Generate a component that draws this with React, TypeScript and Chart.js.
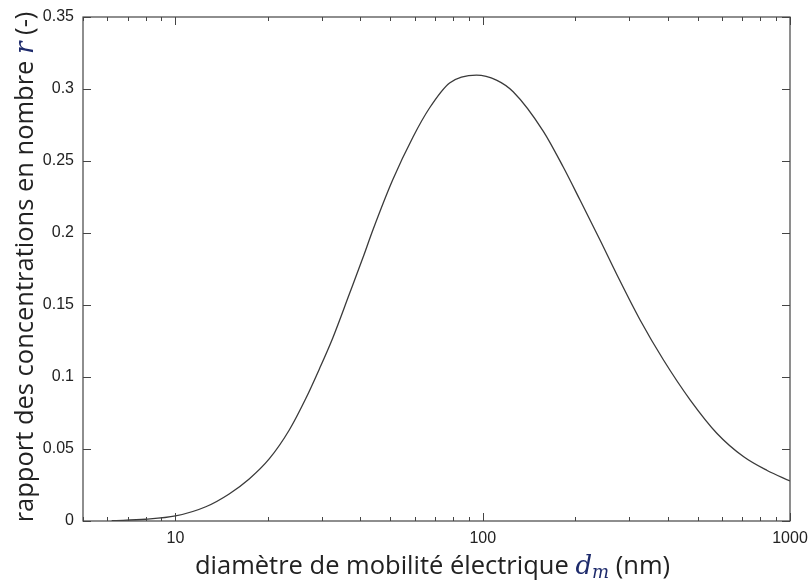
import React, { useEffect, useRef } from "react";
import { Chart, registerables } from "chart.js";

Chart.register(...registerables);

// mobility diameter d_m (nm)
const diameters = [6.2, 8, 10, 12.55, 14.95, 17.37, 20.18, 23.46, 26.6, 29.4, 32.5, 36.8, 40.7, 43.9, 50.9, 59.3, 67.1, 78, 95.4, 110.8, 125.6, 157.3, 182.8, 207.3, 240.8, 273.1, 325.2, 387.5, 473.6, 578.8, 706.9, 842.6, 1000];
// number concentration ratio r (-)
const ratios = [0.0002, 0.0012, 0.0035, 0.0099, 0.0188, 0.0292, 0.0431, 0.0632, 0.0854, 0.1056, 0.1271, 0.1576, 0.1826, 0.2021, 0.2368, 0.2667, 0.2868, 0.3042, 0.3097, 0.3062, 0.2981, 0.2708, 0.2458, 0.2229, 0.1951, 0.1712, 0.1396, 0.1118, 0.084, 0.0608, 0.0446, 0.0351, 0.0278];

const xMajorTicks = [10, 100, 1000];
const yTickValues = [0, 0.05, 0.1, 0.15, 0.2, 0.25, 0.3, 0.35];
const yTickLabels = ["0", "0.05", "0.1", "0.15", "0.2", "0.25", "0.3", "0.35"];

const xTitleParts = ["diamètre de mobilité électrique ", "d", "m", " (nm)"];
const yTitleParts = ["rapport des concentrations en nombre ", "r", " (-)"];

const TEXT = "#222";
const MATHC = "#1d2a6b";
const AXIS = "#444";

const framePlugin = {
  id: "frame",
  afterDraw(chart: any) {
    const { ctx, chartArea: a, scales } = chart;
    const x = scales.x;
    const y = scales.y;
    ctx.save();
    ctx.strokeStyle = AXIS;
    ctx.lineWidth = 1.2;
    ctx.strokeRect(a.left, a.top, a.right - a.left, a.bottom - a.top);
    ctx.lineWidth = 1;
    const major = 8;
    const minor = 4;
    for (let dec = 1; dec <= 1000; dec *= 10) {
      for (let k = 1; k <= 9; k++) {
        const v = dec * k;
        if (v < x.min || v > x.max) continue;
        const L = k === 1 ? major : minor;
        const px = Math.round(x.getPixelForValue(v)) + 0.5;
        ctx.beginPath();
        ctx.moveTo(px, a.bottom);
        ctx.lineTo(px, a.bottom - L);
        ctx.moveTo(px, a.top);
        ctx.lineTo(px, a.top + L);
        ctx.stroke();
      }
    }
    yTickValues.forEach((v) => {
      const py = Math.round(y.getPixelForValue(v)) + 0.5;
      ctx.beginPath();
      ctx.moveTo(a.left, py);
      ctx.lineTo(a.left + major, py);
      ctx.moveTo(a.right, py);
      ctx.lineTo(a.right - major, py);
      ctx.stroke();
    });
    ctx.restore();
  },
};

const SANS = "'Open Sans', 'DejaVu Sans', sans-serif";
const NORMAL = `25.5px ${SANS}`;
const MATH = "italic 26px 'DejaVu Serif', 'Liberation Serif', serif";
const SUB = "italic 18px 'DejaVu Serif', 'Liberation Serif', serif";

const titlePlugin = {
  id: "titles",
  afterDraw(chart: any) {
    const { ctx, chartArea: a } = chart;
    ctx.save();
    ctx.textBaseline = "alphabetic";
    ctx.textAlign = "left";
    const xp = [
      { t: xTitleParts[0], f: NORMAL, dy: 0, c: TEXT },
      { t: xTitleParts[1], f: MATH, dy: 0, c: MATHC },
      { t: xTitleParts[2], f: SUB, dy: 4, c: MATHC },
      { t: xTitleParts[3], f: NORMAL, dy: 0, c: TEXT },
    ];
    let w = 0;
    xp.forEach((p) => { ctx.font = p.f; w += ctx.measureText(p.t).width; });
    let cx = (a.left + a.right) / 2 - 4 - w / 2;
    const by = 574;
    xp.forEach((p) => {
      ctx.font = p.f;
      ctx.fillStyle = p.c;
      ctx.fillText(p.t, cx, by + p.dy);
      cx += ctx.measureText(p.t).width;
    });
    const yp = [
      { t: yTitleParts[0], f: NORMAL, c: TEXT },
      { t: yTitleParts[1], f: MATH, c: MATHC },
      { t: yTitleParts[2], f: NORMAL, c: TEXT },
    ];
    w = 0;
    yp.forEach((p) => { ctx.font = p.f; w += ctx.measureText(p.t).width; });
    ctx.translate(33, 267);
    ctx.rotate(-Math.PI / 2);
    let cy = -w / 2;
    yp.forEach((p) => {
      ctx.font = p.f;
      ctx.fillStyle = p.c;
      ctx.fillText(p.t, cy, 0);
      cy += ctx.measureText(p.t).width;
    });
    ctx.restore();
  },
};

export default function App() {
  const ref = useRef<HTMLCanvasElement | null>(null);
  useEffect(() => {
    if (!ref.current) return;
    const chart = new Chart(ref.current, {
      type: "line",
      data: {
        datasets: [
          {
            data: diameters.map((d, i) => ({ x: d, y: ratios[i] })),
            borderColor: "#3a3a3a",
            borderWidth: 1.3,
            pointRadius: 0,
            fill: false,
            cubicInterpolationMode: "monotone",
          },
        ],
      },
      options: {
        responsive: false,
        animation: false,
        devicePixelRatio: 1,
        layout: { padding: { top: 17, right: 19, left: 0, bottom: 0 } },
        plugins: { legend: { display: false }, tooltip: { enabled: false } },
        scales: {
          x: {
            type: "logarithmic",
            min: 5,
            max: 1000,
            afterBuildTicks: (s: any) => {
              s.ticks = xMajorTicks.map((v) => ({ value: v, major: true }));
            },
            afterFit: (s: any) => {
              s.height = 60;
              s.paddingLeft = 0;
              s.paddingRight = 0;
            },
            grid: { display: false, drawTicks: false },
            border: { display: false },
            ticks: {
              autoSkip: false,
              maxRotation: 0,
              padding: 8,
              color: TEXT,
              font: { family: "'Liberation Sans', Arial, sans-serif", size: 16 },
              callback: (v: any) => String(v),
            },
          },
          y: {
            type: "linear",
            min: 0,
            max: 0.35,
            afterBuildTicks: (s: any) => {
              s.ticks = yTickValues.map((v) => ({ value: v }));
            },
            afterFit: (s: any) => {
              s.width = 83;
              s.paddingTop = 0;
              s.paddingBottom = 0;
            },
            grid: { display: false, drawTicks: false },
            border: { display: false },
            ticks: {
              padding: 9,
              color: TEXT,
              font: { family: "'Liberation Sans', Arial, sans-serif", size: 16 },
              callback: (v: any) => {
                const i = yTickValues.findIndex((t) => Math.abs(t - v) < 1e-9);
                return i >= 0 ? yTickLabels[i] : "";
              },
            },
          },
        },
      },
      plugins: [framePlugin, titlePlugin],
    } as any);
    return () => chart.destroy();
  }, []);
  return (
    <div style={{ position: "absolute", left: 0, top: 0, width: 809, height: 581, background: "#fff" }}>
      <canvas ref={ref} width={809} height={581} />
    </div>
  );
}
